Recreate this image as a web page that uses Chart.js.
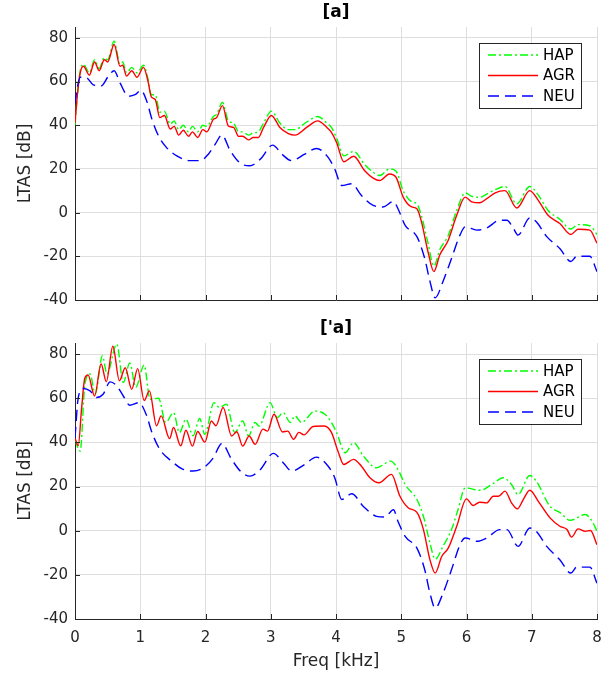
<!DOCTYPE html>
<html>
<head>
<meta charset="utf-8">
<script src="https://cdn.jsdelivr.net/npm/chart.js@4.4.1/dist/chart.umd.min.js"></script>
<style>
  body { margin: 0; background: #fff; }
  #wrap { position: relative; width: 614px; height: 673px; }
  #topChart { position: absolute; left: 0; top: 0; }
  #botChart { position: absolute; left: 0; top: 316px; }
</style>
</head>
<body>
<div id="wrap">
  <canvas id="topChart" width="614" height="316"></canvas>
  <canvas id="botChart" width="614" height="357"></canvas>
</div>
<script>
// series labels and panel titles
const seriesNames = ['HAP', 'AGR', 'NEU'];
const panelTitles = ['[a]', "['a]"];
const xTicks = [0, 1, 2, 3, 4, 5, 6, 7, 8];
const yTicks = [-40, -20, 0, 20, 40, 60, 80];

// [freq kHz, LTAS dB] - panel [a]
const topHAP = [[0,40],[0.04,55],[0.08,65],[0.13,68],[0.22,64],[0.30,70],[0.37,66],[0.45,71],[0.50,70],[0.60,78.5],[0.69,68],[0.73,69],[0.79,64],[0.87,66.5],[0.95,64],[1.05,67.5],[1.12,61],[1.17,54],[1.23,54],[1.30,46],[1.37,46.5],[1.46,40.5],[1.52,42],[1.59,38],[1.66,40],[1.74,37],[1.80,39.5],[1.88,37],[1.96,40],[2.02,39.5],[2.12,44],[2.17,45],[2.26,50.5],[2.35,42],[2.43,41],[2.51,37],[2.57,37],[2.66,35.5],[2.73,36.5],[2.81,37],[2.89,41],[3.01,46.5],[3.14,41],[3.27,38],[3.37,38],[3.55,41.5],[3.72,44],[3.86,41],[3.93,39],[4.01,34],[4.12,26],[4.27,28],[4.44,22],[4.57,18.5],[4.67,17],[4.82,20],[4.92,19],[5.03,10],[5.16,5],[5.24,4],[5.31,-1.5],[5.41,-14],[5.50,-24.5],[5.59,-17],[5.72,-10.5],[5.85,1],[5.98,9],[6.08,7.5],[6.20,7],[6.31,8.5],[6.44,10.5],[6.59,12],[6.77,4],[6.97,12],[7.10,8],[7.25,1],[7.43,-3],[7.60,-7.5],[7.71,-5.5],[7.89,-6],[8.0,-10]];
const topAGR = [[0,41],[0.04,55],[0.08,64],[0.13,67],[0.22,63],[0.30,69],[0.37,65],[0.45,70],[0.50,69],[0.60,77],[0.69,67],[0.73,67.5],[0.79,62.5],[0.87,65],[0.95,62],[1.05,66.5],[1.12,60],[1.17,53],[1.23,51.8],[1.30,43.5],[1.37,44.5],[1.46,38.3],[1.52,39.5],[1.59,35.5],[1.66,37.7],[1.74,35],[1.80,37],[1.88,34.4],[1.96,38],[2.02,37],[2.12,42.7],[2.17,43.5],[2.26,49],[2.35,39.7],[2.43,39],[2.51,34.9],[2.57,35],[2.66,33.3],[2.73,34.4],[2.81,34.4],[2.89,39],[3.01,44.5],[3.14,39],[3.27,36.2],[3.37,35.5],[3.55,39],[3.72,42],[3.86,39],[3.93,36.7],[4.01,32],[4.12,23.3],[4.27,25.8],[4.44,19.2],[4.57,15.8],[4.67,14.7],[4.82,17.7],[4.92,16.2],[5.03,7.1],[5.16,2.6],[5.24,1.8],[5.31,-4.2],[5.41,-17.9],[5.50,-27],[5.59,-19.4],[5.72,-12.6],[5.85,-1.2],[5.98,7.1],[6.08,4.9],[6.20,4.5],[6.31,6.4],[6.44,9.1],[6.59,10.1],[6.77,2.1],[6.97,10.1],[7.10,5.6],[7.25,-1.2],[7.43,-5],[7.60,-10],[7.71,-7.6],[7.89,-8],[8.0,-14]];
const topNEU = [[0,50],[0.04,58],[0.08,62],[0.18,61.7],[0.28,58.5],[0.40,58],[0.51,62.4],[0.60,65],[0.69,59.4],[0.82,53.3],[0.92,54],[1.01,56],[1.10,51],[1.18,42.7],[1.28,35.1],[1.40,29.9],[1.56,26],[1.76,23.8],[1.92,23.8],[2.05,27],[2.15,31.4],[2.25,35.5],[2.38,28.3],[2.53,22.7],[2.68,21.5],[2.84,24.5],[3.03,30.9],[3.17,26.8],[3.32,23.8],[3.52,26.8],[3.70,29.4],[3.88,25.3],[3.98,20],[4.09,12.4],[4.24,13.2],[4.39,7.9],[4.57,3.3],[4.72,2.6],[4.88,5.1],[4.95,1.8],[5.06,-5.8],[5.24,-11],[5.36,-21],[5.44,-31.5],[5.52,-39],[5.64,-31.5],[5.77,-21],[5.90,-10.3],[5.98,-6.5],[6.16,-8],[6.31,-7],[6.51,-3.5],[6.62,-3.5],[6.72,-7.3],[6.79,-10.3],[6.97,-2.4],[7.07,-4.2],[7.23,-11],[7.43,-16.4],[7.60,-22.4],[7.69,-20],[7.89,-20],[8.0,-27]];

// panel ['a]
const botHAP = [[0,41],[0.08,36],[0.15,66],[0.23,71],[0.31,62],[0.42,79.2],[0.49,71],[0.64,84.5],[0.74,67.1],[0.84,76],[0.93,64.9],[1.06,75],[1.15,59.5],[1.28,60],[1.39,49],[1.51,53.5],[1.60,44.4],[1.70,50.5],[1.81,43],[1.91,50.8],[1.99,43.6],[2.13,58],[2.21,55.8],[2.32,57.3],[2.45,44.4],[2.57,49.7],[2.66,42.9],[2.76,49],[2.82,47.4],[2.99,58],[3.10,51.2],[3.19,53.5],[3.30,49],[3.37,52],[3.47,49],[3.68,54.2],[3.83,52.7],[3.93,49],[4.01,44.4],[4.14,35.3],[4.27,39.8],[4.42,33.8],[4.62,28.5],[4.84,31.5],[4.95,27.7],[5.06,20.9],[5.24,14.1],[5.34,6.5],[5.44,-5.6],[5.52,-12.9],[5.64,-7.1],[5.77,0.5],[5.87,9.5],[5.98,19.4],[6.21,18.3],[6.41,21.4],[6.56,24],[6.69,20.9],[6.79,16.4],[6.97,25],[7.07,22.4],[7.28,11],[7.43,8.3],[7.59,4.7],[7.82,7.3],[7.94,3.5],[8.0,-0.3]];
const botAGR = [[0,42],[0.05,38.5],[0.10,55],[0.15,69],[0.20,70.5],[0.30,61],[0.40,75.5],[0.48,67.5],[0.58,83.5],[0.68,67.9],[0.77,73.8],[0.87,64],[0.96,73.4],[1.06,59],[1.14,63.3],[1.25,47.5],[1.32,52],[1.45,41.7],[1.51,46.7],[1.62,38.4],[1.70,45.5],[1.80,38.3],[1.88,44.9],[1.99,40.1],[2.09,49.7],[2.16,47.5],[2.27,55.8],[2.40,42.9],[2.48,44.8],[2.57,38.3],[2.67,42.9],[2.76,39.1],[2.88,46],[2.95,45.1],[3.05,52.7],[3.18,44.7],[3.26,45.1],[3.35,41.4],[3.43,44.5],[3.51,43.4],[3.65,47.2],[3.82,47.4],[3.93,44.5],[4.03,36],[4.12,30],[4.27,32.3],[4.39,29.2],[4.52,24],[4.66,21.7],[4.85,25.5],[4.98,15.6],[5.11,10.3],[5.24,8.3],[5.34,0.5],[5.44,-13.2],[5.52,-19.2],[5.62,-11.7],[5.72,-7.9],[5.85,2],[6.00,14.4],[6.10,11.4],[6.20,12.9],[6.31,12.6],[6.41,15.6],[6.49,15.6],[6.59,17.9],[6.69,12.6],[6.78,9.9],[6.87,14.1],[6.97,18.3],[7.10,13.3],[7.28,5.8],[7.43,2],[7.54,0.5],[7.61,-2.9],[7.71,0.8],[7.82,-0.3],[7.90,0.1],[8.0,-6.4]];
const botNEU = [[0,42],[0.05,60.3],[0.13,64.4],[0.23,63.3],[0.33,60.3],[0.43,61.8],[0.54,67.4],[0.64,65.6],[0.74,61],[0.84,56.8],[0.98,58],[1.09,52.7],[1.18,44.4],[1.30,36.8],[1.48,31.5],[1.64,28],[1.81,27],[1.97,28.5],[2.12,33],[2.25,39.5],[2.40,32.3],[2.55,26.5],[2.68,24.7],[2.84,27.7],[3.04,35],[3.19,30.8],[3.32,27],[3.52,30],[3.70,33.3],[3.88,29.2],[3.98,24],[4.09,14.1],[4.24,16.7],[4.42,11],[4.62,6.5],[4.75,6.2],[4.88,9.5],[4.95,4.2],[5.06,-2.6],[5.24,-7.9],[5.36,-17.7],[5.44,-28.3],[5.52,-35.1],[5.64,-28.3],[5.77,-17.7],[5.90,-6.4],[5.98,-3.3],[6.16,-4.8],[6.31,-3.3],[6.51,0.5],[6.62,0.5],[6.79,-7.1],[6.97,1.2],[7.07,-0.3],[7.23,-7.1],[7.43,-13.2],[7.60,-19.2],[7.69,-16.5],[7.89,-16.5],[8.0,-23.8]];

const FONT = 'DejaVu Sans';
const AXIS_COLOR = '#262626';

// matlab style ticks pointing into the axes
const innerTicks = {
  id: 'innerTicks',
  afterDraw(chart) {
    const { ctx, chartArea: a, scales } = chart;
    ctx.save();
    ctx.strokeStyle = AXIS_COLOR;
    ctx.lineWidth = 1;
    ctx.beginPath();
    scales.x.ticks.forEach(t => {
      const px = Math.round(scales.x.getPixelForValue(t.value)) + 0.5;
      ctx.moveTo(px, a.bottom);
      ctx.lineTo(px, a.bottom - 5);
    });
    scales.y.ticks.forEach(t => {
      const py = Math.round(scales.y.getPixelForValue(t.value)) + 0.5;
      ctx.moveTo(a.left, py);
      ctx.lineTo(a.left + 5, py);
    });
    ctx.stroke();
    ctx.restore();
  }
};

// boxed legend in the upper right corner of the plot
const boxLegend = {
  id: 'boxLegend',
  afterDraw(chart) {
    const { ctx, chartArea: a } = chart;
    const w = 102, h = 65;
    const x0 = a.right - 16 - w, y0 = a.top + 16;
    ctx.save();
    ctx.fillStyle = '#fff';
    ctx.fillRect(x0, y0, w, h);
    ctx.strokeStyle = AXIS_COLOR;
    ctx.lineWidth = 1;
    ctx.strokeRect(Math.round(x0) + 0.5, Math.round(y0) + 0.5, w, h);
    ctx.font = '15px "' + FONT + '"';
    ctx.textBaseline = 'middle';
    chart.data.datasets.forEach((ds, i) => {
      const yy = y0 + 12 + i * 20.5;
      ctx.strokeStyle = ds.borderColor;
      ctx.lineWidth = ds.borderWidth;
      ctx.setLineDash(ds.borderDash || []);
      ctx.beginPath();
      ctx.moveTo(x0 + 9, yy);
      ctx.lineTo(x0 + 59, yy);
      ctx.stroke();
      ctx.setLineDash([]);
      ctx.fillStyle = '#000';
      ctx.fillText(ds.label, x0 + 64, yy + 1);
    });
    ctx.restore();
  }
};

function makeChart(id, title, hap, agr, neu, isBottom) {
  const ctx = document.getElementById(id);
  return new Chart(ctx, {
    type: 'line',
    data: {
      datasets: [
        { label: seriesNames[0], data: hap, borderColor: '#00ff00', borderWidth: 1.4, borderDash: [8, 3, 2, 3], order: 2 },
        { label: seriesNames[1], data: agr, borderColor: '#ff0000', borderWidth: 1.4, order: 1 },
        { label: seriesNames[2], data: neu, borderColor: '#0000ff', borderWidth: 1.4, borderDash: [11, 6], order: 0 },
      ],
    },
    options: {
      responsive: false,
      animation: false,
      layout: { padding: { left: 0, right: 17, top: 0, bottom: 0 } },
      elements: {
        point: { radius: 0 },
        line: { cubicInterpolationMode: 'monotone', fill: false },
      },
      scales: {
        x: {
          type: 'linear',
          min: 0,
          max: 8,
          afterBuildTicks: s => { s.ticks = xTicks.map(v => ({ value: v })); },
          afterFit: s => { s.height = isBottom ? 54 : 14; },
          ticks: { display: isBottom, padding: 10, color: AXIS_COLOR, font: { family: FONT, size: 15 }, maxRotation: 0 },
          grid: { color: '#dedede', drawTicks: false },
          border: { color: AXIS_COLOR, width: 1 },
          title: { display: isBottom, text: 'Freq [kHz]', color: AXIS_COLOR, font: { family: FONT, size: 17 }, padding: { top: 0, bottom: 1 } },
        },
        y: {
          min: -40,
          max: 85,
          afterBuildTicks: s => { s.ticks = yTicks.map(v => ({ value: v })); },
          afterFit: s => { s.width = 75; },
          ticks: { padding: 7, color: AXIS_COLOR, font: { family: FONT, size: 15 } },
          grid: { color: '#dedede', drawTicks: false },
          border: { color: AXIS_COLOR, width: 1 },
          title: { display: true, text: 'LTAS [dB]', color: AXIS_COLOR, font: { family: FONT, size: 17 }, padding: { top: 15, bottom: 0 } },
        },
      },
      plugins: {
        legend: { display: false },
        tooltip: { enabled: false },
        title: {
          display: true,
          fullSize: false,
          text: title,
          color: '#000',
          font: { family: FONT, size: 17, weight: 'bold' },
          padding: { top: 2, bottom: 4.6 },
        },
      },
    },
    plugins: [innerTicks, boxLegend],
  });
}

makeChart('topChart', panelTitles[0], topHAP, topAGR, topNEU, false);
makeChart('botChart', panelTitles[1], botHAP, botAGR, botNEU, true);
</script>
</body>
</html>
